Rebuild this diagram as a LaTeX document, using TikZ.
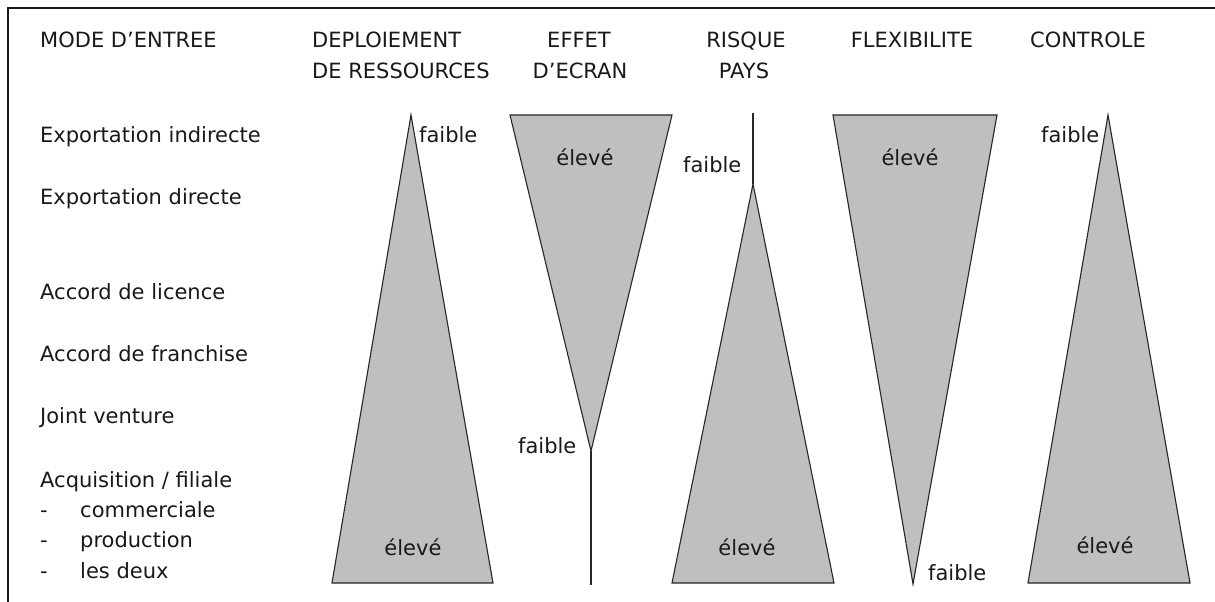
\documentclass[tikz,border=0pt]{standalone}
\usepackage{fontspec}
\setmainfont{DejaVu Sans}
\begin{document}
\begin{tikzpicture}[x=1pt,y=-1pt,
  txt/.style={font=\fontsize{21}{24}\selectfont, text=black!90, inner sep=0pt},
  lbl/.style={txt, anchor=base west},
  hdr/.style={txt, anchor=base},
  wedge/.style={fill=black!25, draw=black!85, line width=1.1pt, line join=miter},
  stem/.style={draw=black!85, line width=1.3pt}]
\useasboundingbox (0,0) rectangle (1215,602);
\fill[white] (0,0) rectangle (1215,602);

% frame (top and left edges)
\draw[line width=2pt, black!90] (8,602) -- (8,8) -- (1215,8);

% column headers
\node[lbl] (hmode) at (40,48) {MODE D'ENTREE};
\node[lbl] (hdep1) at (312,48) {DEPLOIEMENT};
\node[lbl] (hdep2) at (312,78) {DE RESSOURCES};
\node[hdr] (heff1) at (579,48) {EFFET};
\node[hdr] (heff2) at (580,78) {D'ECRAN};
\node[hdr] (hris1) at (746,48) {RISQUE};
\node[hdr] (hris2) at (744,78) {PAYS};
\node[hdr] (hflex) at (912,48) {FLEXIBILITE};
\node[hdr] (hctrl) at (1088,48) {CONTROLE};

% entry modes
\node[lbl] (r1) at (40,142) {Exportation indirecte};
\node[lbl] (r2) at (40,204) {Exportation directe};
\node[lbl] (r3) at (40,299) {Accord de licence};
\node[lbl] (r4) at (40,361) {Accord de franchise};
\node[lbl] (r5) at (40,423) {Joint venture};
\node[lbl] (r6) at (40,487) {Acquisition / filiale};
\node[lbl] (d1) at (40,517) {-};
\node[lbl] (r7) at (80,517) {commerciale};
\node[lbl] (d2) at (40,547) {-};
\node[lbl] (r8) at (80,547) {production};
\node[lbl] (d3) at (40,578) {-};
\node[lbl] (r9) at (80,578) {les deux};

% resource deployment: rising wedge
\draw[wedge] (411,115) -- (493,583) -- (332,583) -- cycle;
\node[lbl] (dlow) at (419,142) {faible};
\node[hdr] (dhigh) at (413,555) {élevé};

% screening effect: falling wedge then a stem
\coordinate (etip) at (591,451);
\draw[wedge] (510,115) -- (672,115) -- (etip) -- cycle;
\draw[stem] (etip) -- (591,585);
\node[hdr] (ehigh) at (585,165) {élevé};
\node[lbl] (elow) at (518,453) {faible};

% country risk: stem then a rising wedge
\coordinate (rtip) at (753,184);
\draw[stem] (753,113) -- (rtip);
\draw[wedge] (rtip) -- (834,583) -- (672,583) -- cycle;
\node[lbl] (rlow) at (683,172) {faible};
\node[hdr] (rhigh) at (747,555) {élevé};

% flexibility: falling wedge
\draw[wedge] (833,115) -- (997,115) -- (913,584) -- cycle;
\node[hdr] (fhigh) at (910,165) {élevé};
\node[lbl] (flow) at (928,580) {faible};

% control: rising wedge
\draw[wedge] (1108,115) -- (1190,583) -- (1028,583) -- cycle;
\node[lbl] (clow) at (1041,142) {faible};
\node[hdr] (chigh) at (1105,553) {élevé};
\end{tikzpicture}
\end{document}
